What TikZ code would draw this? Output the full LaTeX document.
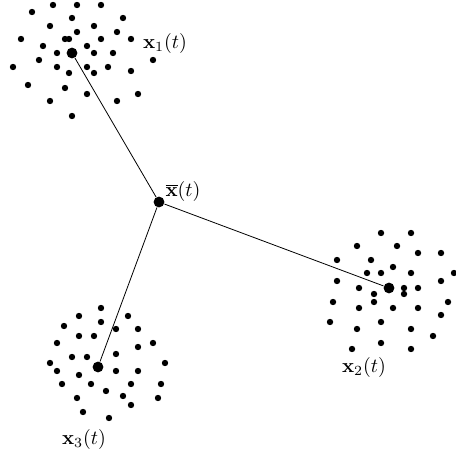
\documentclass[tikz,border=0pt]{standalone}
\usepackage{amsmath}

\tikzset{
  sample/.style={circle,fill=black,inner sep=0pt,minimum size=3.2pt},
  mean/.style={circle,fill=black,inner sep=0pt,minimum size=5.4pt},
}

\begin{document}
\begin{tikzpicture}[x=0.5pt,y=-0.5pt]

\useasboundingbox (0,0) rectangle (455,459);

% cluster 1
\foreach \p in {(53,5),(77,5),(101,5),(32,12),(72,18),(123,18),(50,26),(94,26),
  (77,32),(117,32),(21,39),(65,39),(69,39),(101,39),(131,39),(43,46),(87,46),
  (57,53),(94,53),(113,53),(39,60),(153,60),(13,67),(57,67),(87,67),(108,67),
  (69,73),(94,73),(131,71),(28,85),(65,88),(87,94),(138,94),(50,101),(117,101),
  (72,116)}
  \node[sample] at \p {};

% cluster 2
\foreach \p in {(381,233),(411,233),(357,246),(397,246),(418,253),(441,253),
  (337,260),(371,260),(393,267),(367,273),(381,273),(411,273),(454,273),
  (337,281),(441,281),(359,288),(404,288),(418,288),(374,294),(404,294),
  (374,302),(333,302),(448,302),(359,308),(393,308),(418,308),(441,315),
  (330,322),(381,322),(357,329),(411,329),(433,336),(381,343),(352,349),(411,349)}
  \node[sample] at \p {};

% cluster 3
\foreach \p in {(101,308),(79,316),(128,316),(101,322),(64,326),(116,329),
  (138,329),(79,336),(94,336),(57,343),(153,343),(138,347),(116,354),(72,357),
  (87,357),(50,363),(165,363),(57,371),(116,371),(138,371),(79,375),(62,384),
  (91,384),(131,384),(161,384),(106,391),(123,396),(77,398),(158,398),
  (131,405),(83,412),(109,418)}
  \node[sample] at \p {};

% means
\node[mean]
(m1)
at (72,53)
{};

\node[mean]
(m2)
at (389,288)
{};

\node[mean]
(m3)
at (98,367)
{};

\node[mean]
(c)
at (159,202)
{};

\draw (c) -- (m1);
\draw (c) -- (m2);
\draw (c) -- (m3);

\node (l1) at (165,44) {$\mathbf{x}_1(t)$};
\node (l2) at (364,367) {$\mathbf{x}_2(t)$};
\node (l3) at (84,439) {$\mathbf{x}_3(t)$};
\node (lc) at (183,192) {$\overline{\mathbf{x}}(t)$};

\end{tikzpicture}
\end{document}
